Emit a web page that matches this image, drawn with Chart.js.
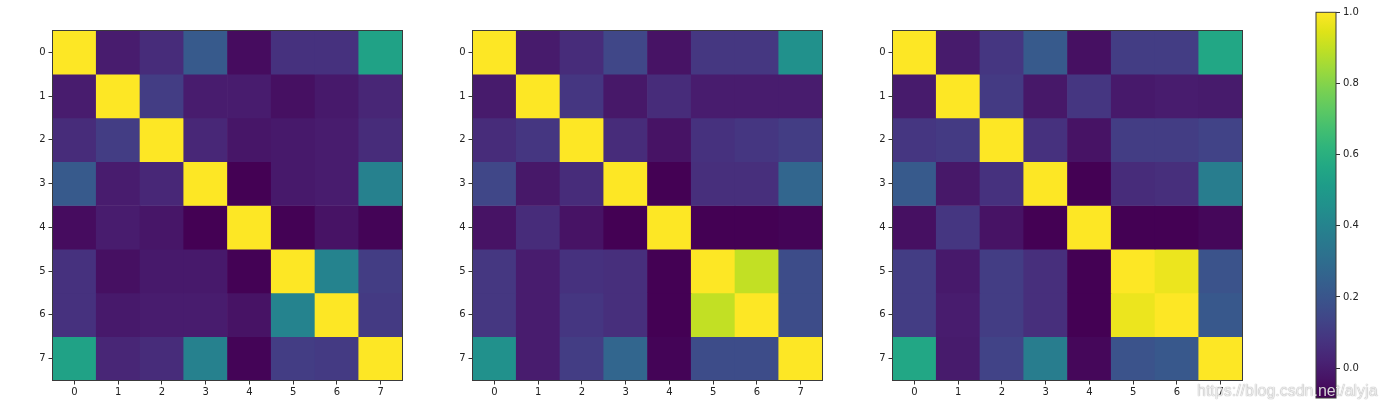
<!DOCTYPE html>
<html>
<head>
<meta charset="utf-8">
<script src="https://cdn.jsdelivr.net/npm/chart.js@4.4.0/dist/chart.umd.min.js"></script>
<style>
  html, body { margin: 0; padding: 0; background: #ffffff; }
  #wrap { position: relative; width: 1385px; height: 408px; overflow: hidden; background: #fff; }
  .panel { position: absolute; top: 0; }
  #watermark {
    position: absolute; left: 1197px; top: 381.5px;
    font-family: "Liberation Sans", Arial, sans-serif; font-size: 16px;
    color: rgba(255,255,255,0.82);
    text-shadow: 0 0 1px rgba(0,0,0,0.35), 0 0 1px rgba(0,0,0,0.25);
    white-space: nowrap; pointer-events: none;
  }
</style>
</head>
<body>
<div id="wrap">
  <div class="panel" style="left:0px;width:420px;height:408px"><canvas id="c1" width="420" height="408"></canvas></div>
  <div class="panel" style="left:420px;width:420px;height:408px"><canvas id="c2" width="420" height="408"></canvas></div>
  <div class="panel" style="left:840px;width:420px;height:408px"><canvas id="c3" width="420" height="408"></canvas></div>
  <div class="panel" style="left:1290px;width:95px;height:408px"><canvas id="cb" width="95" height="408"></canvas></div>
  <div id="watermark">https://blog.csdn.net/alyja</div>
</div>
<script>
// ---------------- DATA ----------------
const categories = ['0', '1', '2', '3', '4', '5', '6', '7'];
const rowTicks = [0, 1, 2, 3, 4, 5, 6, 7];
const colorbarTicks = [0.0, 0.2, 0.4, 0.6, 0.8, 1.0];
const colorMin = -0.084;
const colorMax = 1.0;

const matrixA = [
  [1.00, 0.00, 0.05, 0.22, -0.05, 0.07, 0.07, 0.54],
  [0.00, 1.00, 0.11, 0.00, 0.00, -0.04, -0.01, 0.03],
  [0.05, 0.11, 1.00, 0.035, -0.02, -0.01, 0.00, 0.05],
  [0.22, 0.00, 0.035, 1.00, -0.084, -0.01, 0.00, 0.39],
  [-0.05, 0.00, -0.02, -0.084, 1.00, -0.08, -0.03, -0.075],
  [0.07, -0.04, -0.01, -0.01, -0.08, 1.00, 0.40, 0.11],
  [0.07, -0.01, 0.00, 0.00, -0.03, 0.40, 1.00, 0.10],
  [0.54, 0.03, 0.05, 0.39, -0.075, 0.11, 0.10, 1.00]
];
const matrixB = [
  [1.00, -0.005, 0.05, 0.145, -0.03, 0.09, 0.09, 0.46],
  [-0.005, 1.00, 0.085, -0.015, 0.05, 0.00, 0.00, 0.00],
  [0.05, 0.085, 1.00, 0.05, -0.03, 0.07, 0.085, 0.11],
  [0.145, -0.015, 0.05, 1.00, -0.084, 0.06, 0.06, 0.27],
  [-0.03, 0.05, -0.03, -0.084, 1.00, -0.084, -0.084, -0.075],
  [0.09, 0.00, 0.07, 0.06, -0.084, 1.00, 0.90, 0.165],
  [0.09, 0.00, 0.085, 0.06, -0.084, 0.90, 1.00, 0.165],
  [0.46, 0.00, 0.11, 0.27, -0.075, 0.165, 0.165, 1.00]
];
const matrixC = [
  [1.00, -0.005, 0.085, 0.22, -0.04, 0.11, 0.11, 0.56],
  [-0.005, 1.00, 0.10, -0.015, 0.085, -0.01, 0.00, -0.005],
  [0.085, 0.10, 1.00, 0.07, -0.03, 0.11, 0.11, 0.13],
  [0.22, -0.015, 0.07, 1.00, -0.084, 0.05, 0.06, 0.37],
  [-0.04, 0.085, -0.03, -0.084, 1.00, -0.084, -0.084, -0.065],
  [0.11, -0.01, 0.11, 0.06, -0.084, 1.00, 0.97, 0.19],
  [0.11, 0.00, 0.11, 0.06, -0.084, 0.97, 1.00, 0.21],
  [0.56, -0.005, 0.13, 0.37, -0.065, 0.19, 0.21, 1.00]
];

// ---------------- COLORMAP (viridis) ----------------
const viridisStops = [
  '#440154', '#471365', '#482475', '#463480', '#414487', '#3b528b', '#355f8d',
  '#2f6c8e', '#2a788e', '#25848e', '#21918c', '#1e9c89', '#22a884', '#2fb47c',
  '#44bf70', '#5ec962', '#7ad151', '#9bd93c', '#bddf26', '#dfe318', '#fde725'
];
function hexToRgb(h) {
  return [parseInt(h.slice(1, 3), 16), parseInt(h.slice(3, 5), 16), parseInt(h.slice(5, 7), 16)];
}
const viridisRgb = viridisStops.map(hexToRgb);
function viridis(t) {
  t = Math.max(0, Math.min(1, t));
  const n = viridisRgb.length - 1;
  const p = t * n;
  const i = Math.min(n - 1, Math.floor(p));
  const f = p - i;
  const a = viridisRgb[i], b = viridisRgb[i + 1];
  const c = a.map((v, k) => Math.round(v + (b[k] - v) * f));
  return `rgb(${c[0]},${c[1]},${c[2]})`;
}
function colorFor(v) {
  return viridis((v - colorMin) / (colorMax - colorMin));
}

// ---------------- HELPERS ----------------
const FONT = { family: '"DejaVu Sans", sans-serif', size: 10 };
const TICK_COLOR = '#222222';

const framePlugin = {
  id: 'frame',
  afterDraw(chart) {
    const a = chart.chartArea;
    const ctx = chart.ctx;
    ctx.save();
    ctx.strokeStyle = '#3a3a3a';
    ctx.lineWidth = 1;
    ctx.strokeRect(a.left, a.top, a.right - a.left, a.bottom - a.top);
    ctx.restore();
  }
};

function heatmap(canvasId, matrix) {
  const datasets = matrix.map((row, r) => ({
    label: 'row ' + r,
    data: row.map(() => [r - 0.5, r + 0.5]),
    backgroundColor: row.map(v => colorFor(v)),
    borderWidth: 0,
    barPercentage: 1.0,
    categoryPercentage: 1.0,
    grouped: false
  }));
  return new Chart(document.getElementById(canvasId), {
    type: 'bar',
    data: { labels: categories, datasets },
    options: {
      responsive: false,
      animation: false,
      events: [],
      layout: { padding: { left: 0, right: 17.5, top: 30.5, bottom: 0 } },
      plugins: { legend: { display: false }, tooltip: { enabled: false } },
      scales: {
        x: {
          type: 'category',
          offset: true,
          grid: { display: true, offset: false, drawOnChartArea: false, drawTicks: true, tickLength: 4, tickColor: '#333', tickWidth: 1 },
          border: { display: false },
          ticks: { color: TICK_COLOR, font: FONT, padding: 2, maxRotation: 0, autoSkip: false },
          afterFit(scale) { scale.height = 27.5; }
        },
        y: {
          type: 'linear',
          min: -0.5,
          max: 7.5,
          reverse: true,
          grid: { display: true, drawOnChartArea: false, drawTicks: true, tickLength: 4, tickColor: '#333', tickWidth: 1 },
          border: { display: false },
          afterBuildTicks(scale) { scale.ticks = rowTicks.map(v => ({ value: v })); },
          ticks: { color: TICK_COLOR, font: FONT, padding: 3, callback: v => String(v) },
          afterFit(scale) { scale.width = 52.5; }
        }
      }
    },
    plugins: [framePlugin]
  });
}

heatmap('c1', matrixA);
heatmap('c2', matrixB);
heatmap('c3', matrixC);

// ---------------- COLORBAR ----------------
new Chart(document.getElementById('cb'), {
  type: 'bar',
  data: {
    labels: ['cb'],
    datasets: [{
      data: [[colorMin, colorMax]],
      borderWidth: 0,
      barPercentage: 1.0,
      categoryPercentage: 1.0,
      backgroundColor(ctx) {
        const chart = ctx.chart;
        const area = chart.chartArea;
        if (!area) return '#440154';
        const ys = chart.scales.y;
        const g = chart.ctx.createLinearGradient(0, ys.getPixelForValue(colorMin), 0, ys.getPixelForValue(colorMax));
        viridisStops.forEach((c, i) => g.addColorStop(i / (viridisStops.length - 1), c));
        return g;
      }
    }]
  },
  options: {
    responsive: false,
    animation: false,
    events: [],
    layout: { padding: { left: 26, right: 0, top: 12.3, bottom: 10 } },
    plugins: { legend: { display: false }, tooltip: { enabled: false } },
    scales: {
      x: { display: false, offset: true },
      y: {
        type: 'linear',
        position: 'right',
        min: colorMin,
        max: colorMax,
        grid: { display: true, drawOnChartArea: false, drawTicks: true, tickLength: 4, tickColor: '#333', tickWidth: 1 },
        border: { display: false },
        afterBuildTicks(scale) { scale.ticks = colorbarTicks.map(v => ({ value: v })); },
        ticks: { color: TICK_COLOR, font: FONT, padding: 3, callback: v => Number(v).toFixed(1) },
        afterFit(scale) { scale.width = 95 - 26 - 20; }
      }
    }
  },
  plugins: [framePlugin]
});
</script>
</body>
</html>
